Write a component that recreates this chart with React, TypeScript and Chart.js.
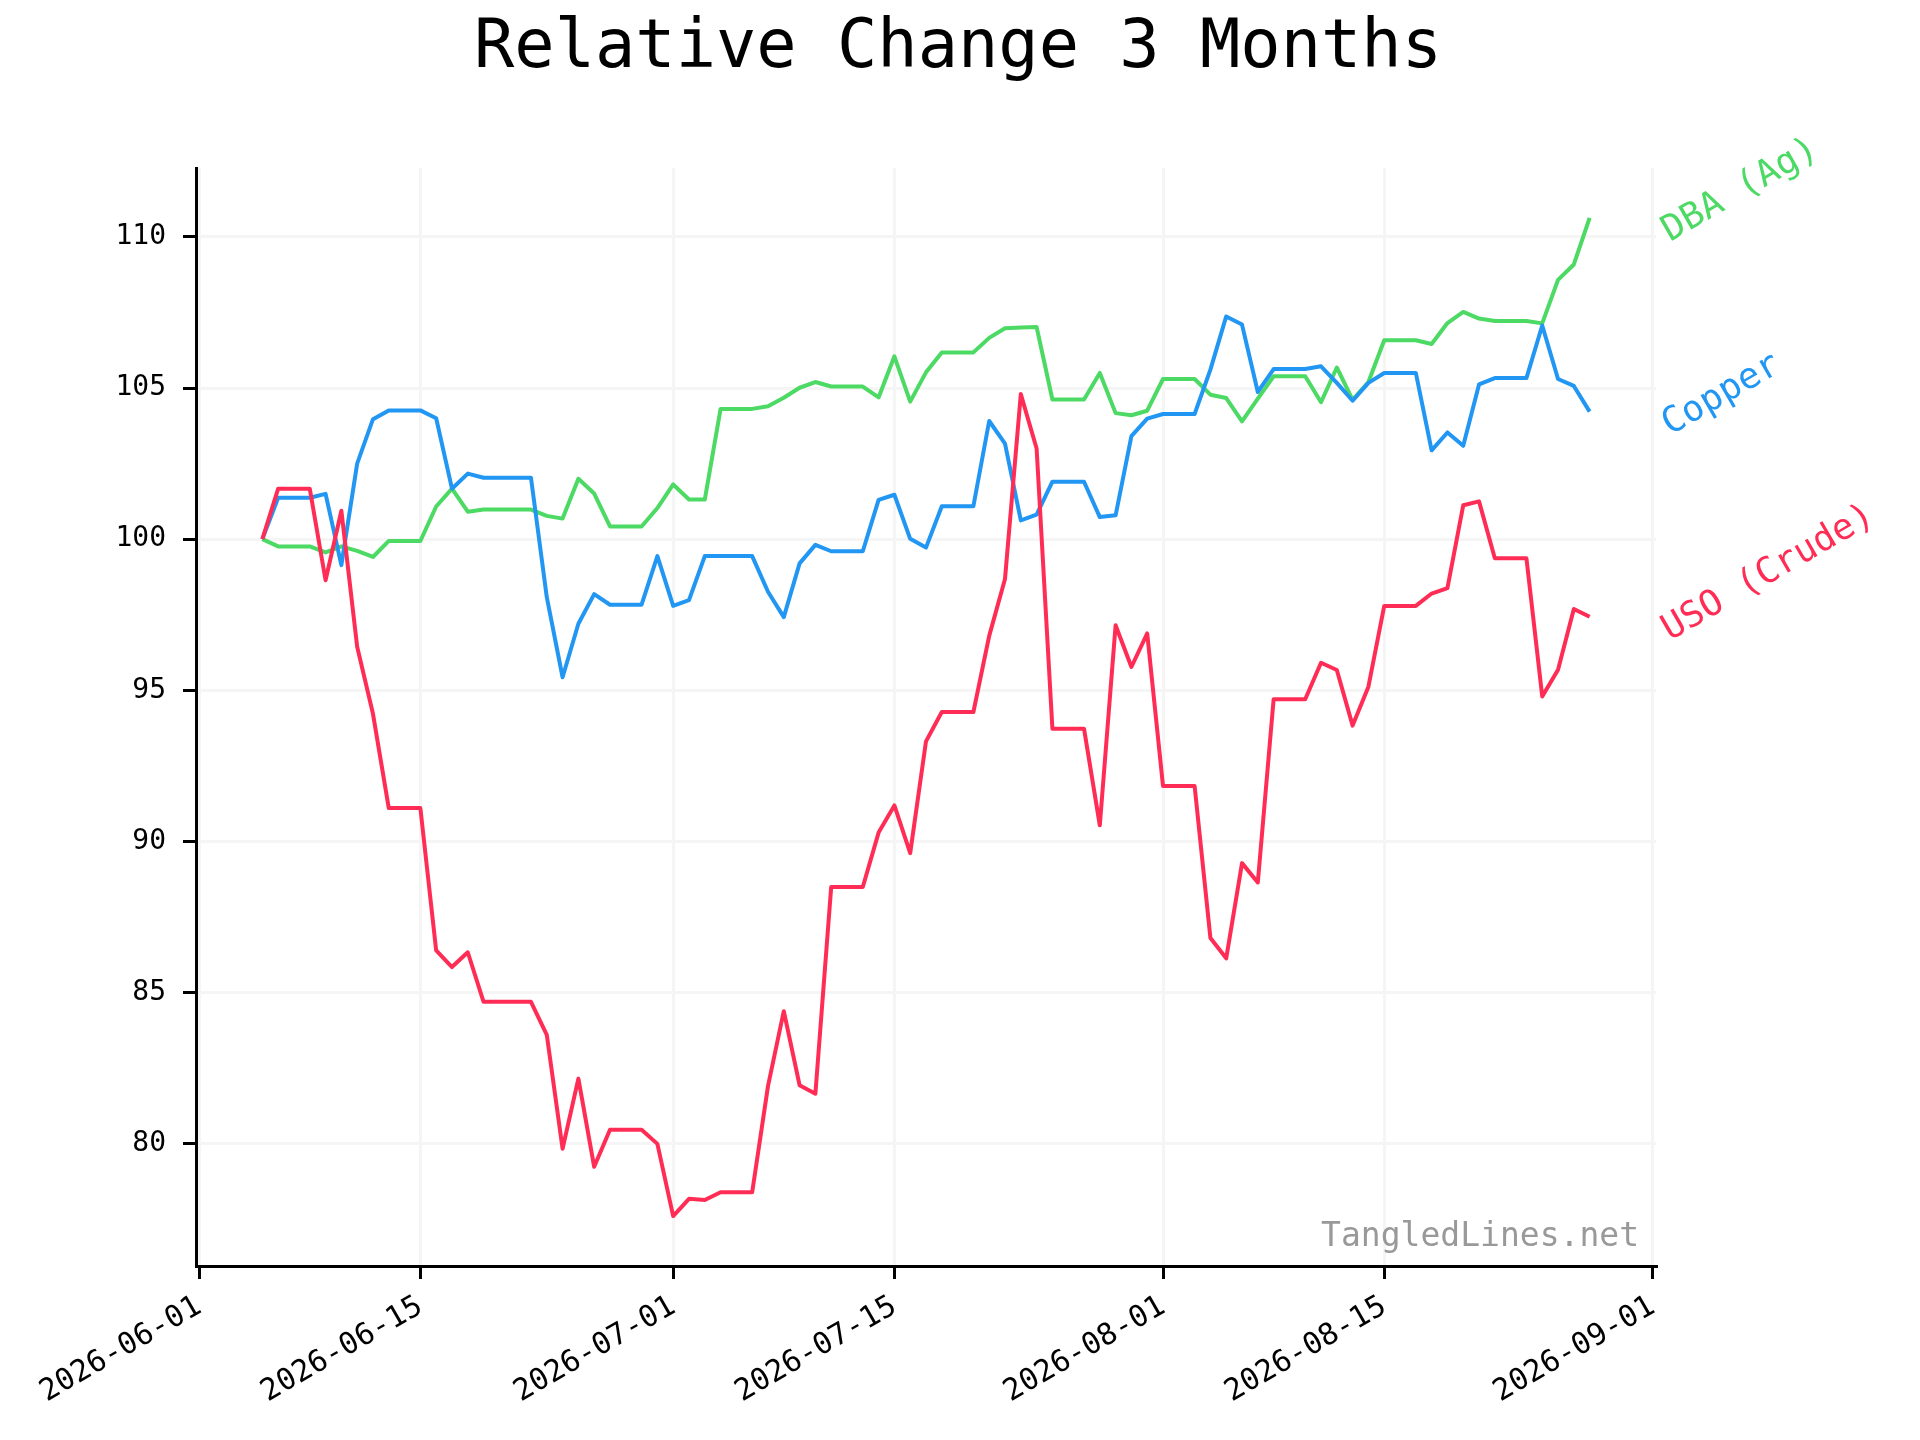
import React, { useEffect, useRef } from "react";
import { Chart, registerables } from "chart.js";

Chart.register(...registerables);

const dates = [
  "2026-06-05", "2026-06-06", "2026-06-07", "2026-06-08", "2026-06-09", "2026-06-10", "2026-06-11",
  "2026-06-12", "2026-06-13", "2026-06-14", "2026-06-15", "2026-06-16", "2026-06-17", "2026-06-18",
  "2026-06-19", "2026-06-20", "2026-06-21", "2026-06-22", "2026-06-23", "2026-06-24", "2026-06-25",
  "2026-06-26", "2026-06-27", "2026-06-28", "2026-06-29", "2026-06-30",
  "2026-07-01", "2026-07-02", "2026-07-03", "2026-07-04", "2026-07-05", "2026-07-06", "2026-07-07",
  "2026-07-08", "2026-07-09", "2026-07-10", "2026-07-11", "2026-07-12", "2026-07-13", "2026-07-14",
  "2026-07-15", "2026-07-16", "2026-07-17", "2026-07-18", "2026-07-19", "2026-07-20", "2026-07-21",
  "2026-07-22", "2026-07-23", "2026-07-24", "2026-07-25", "2026-07-26", "2026-07-27", "2026-07-28",
  "2026-07-29", "2026-07-30", "2026-07-31",
  "2026-08-01", "2026-08-02", "2026-08-03", "2026-08-04", "2026-08-05", "2026-08-06", "2026-08-07",
  "2026-08-08", "2026-08-09", "2026-08-10", "2026-08-11", "2026-08-12", "2026-08-13", "2026-08-14",
  "2026-08-15", "2026-08-16", "2026-08-17", "2026-08-18", "2026-08-19", "2026-08-20", "2026-08-21",
  "2026-08-22", "2026-08-23", "2026-08-24", "2026-08-25", "2026-08-26", "2026-08-27", "2026-08-28",
];

const usoValues = [
  100, 101.67, 101.67, 101.67, 98.64, 100.94, 96.44, 94.22, 91.1, 91.1, 91.1, 86.39, 85.84, 86.33,
  84.69, 84.69, 84.69, 84.69, 83.6, 79.83, 82.15, 79.23, 80.46, 80.46, 80.46, 79.99,
  77.6, 78.17, 78.13, 78.39, 78.39, 78.39, 81.9, 84.38, 81.93, 81.65, 88.49, 88.49, 88.49, 90.29,
  91.19, 89.61, 93.31, 94.28, 94.28, 94.28, 96.8, 98.68, 104.8, 103.0, 93.73, 93.73, 93.73, 90.53,
  97.15, 95.77, 96.88,
  91.83, 91.83, 91.83, 86.8, 86.13, 89.28, 88.64, 94.7, 94.7, 94.7, 95.91, 95.67, 93.83, 95.12,
  97.79, 97.79, 97.79, 98.2, 98.38, 101.12, 101.25, 99.37, 99.37, 99.37, 94.79, 95.68, 97.69, 97.43,
];

const copperValues = [
  100, 101.37, 101.37, 101.37, 101.5, 99.14, 102.5, 103.97, 104.26, 104.26, 104.26, 104.0, 101.67, 102.17,
  102.03, 102.03, 102.03, 102.03, 98.08, 95.43, 97.2, 98.18, 97.83, 97.83, 97.83, 99.44,
  97.79, 97.98, 99.44, 99.44, 99.44, 99.44, 98.26, 97.42, 99.2, 99.81, 99.6, 99.6, 99.6, 101.3,
  101.47, 100.01, 99.72, 101.09, 101.09, 101.09, 103.91, 103.16, 100.62, 100.81, 101.9, 101.9, 101.9, 100.73,
  100.79, 103.41, 103.99,
  104.14, 104.14, 104.14, 105.61, 107.37, 107.1, 104.87, 105.63, 105.63, 105.63, 105.72, 105.17, 104.58, 105.17,
  105.5, 105.5, 105.5, 102.94, 103.53, 103.09, 105.12, 105.33, 105.33, 105.33, 107.07, 105.3, 105.07, 104.22,
];

const dbaValues = [
  100, 99.76, 99.76, 99.76, 99.56, 99.76, 99.61, 99.41, 99.94, 99.94, 99.94, 101.08, 101.67, 100.91,
  100.98, 100.98, 100.98, 100.98, 100.77, 100.68, 102.0, 101.51, 100.42, 100.42, 100.42, 101.03,
  101.81, 101.31, 101.31, 104.31, 104.31, 104.31, 104.4, 104.68, 105.01, 105.2, 105.05, 105.05, 105.05, 104.69,
  106.05, 104.55, 105.52, 106.18, 106.18, 106.18, 106.66, 106.98, 107.0, 107.02, 104.62, 104.62, 104.62, 105.5,
  104.17, 104.1, 104.25,
  105.3, 105.3, 105.3, 104.78, 104.67, 103.9, 104.65, 105.39, 105.39, 105.39, 104.53, 105.68, 104.61, 105.2,
  106.58, 106.58, 106.58, 106.46, 107.15, 107.52, 107.3, 107.22, 107.22, 107.22, 107.14, 108.58, 109.09, 110.63,
];

const seriesNames = ["USO (Crude)", "Copper", "DBA (Ag)"];
const seriesColors = ["#ff2d55", "#2196f3", "#4cd964"];
const xTickLabels = ["2026-06-01", "2026-06-15", "2026-07-01", "2026-07-15", "2026-08-01", "2026-08-15", "2026-09-01"];
const yTickValues = [80, 85, 90, 95, 100, 105, 110];

const MONO = '"DejaVu Sans Mono", monospace';
const DAY_MS = 86400000;
const ORIGIN = Date.parse("2026-06-01T00:00:00Z");
const toDay = (s: string) => (Date.parse(s + "T00:00:00Z") - ORIGIN) / DAY_MS;

const labelPlugin = {
  id: "labels",
  afterDraw(chart: any) {
    const { ctx, chartArea, scales } = chart;
    ctx.save();
    ctx.fillStyle = "#000";
    ctx.font = `67px ${MONO}`;
    ctx.textAlign = "center";
    ctx.textBaseline = "alphabetic";
    ctx.fillText("Relative Change 3 Months", 958, 67);

    ctx.fillStyle = "#999999";
    ctx.font = `33px ${MONO}`;
    ctx.textAlign = "right";
    ctx.fillText("TangledLines.net", chartArea.right - 17, chartArea.bottom - 20);

    // series names at the end of each line
    chart.data.datasets.forEach((ds: any) => {
      const last = ds.data[ds.data.length - 1];
      const y = scales.y.getPixelForValue(last.y);
      ctx.save();
      ctx.translate(chartArea.right + 14, y + 24);
      ctx.rotate(-Math.PI / 6);
      ctx.fillStyle = ds.borderColor;
      ctx.font = `36px ${MONO}`;
      ctx.textAlign = "left";
      ctx.fillText(ds.label, 0, 0);
      ctx.restore();
    });
    ctx.restore();
  },
};

const App: React.FC = () => {
  const canvasRef = useRef<HTMLCanvasElement>(null);

  useEffect(() => {
    document.body.style.margin = "0";
    if (!canvasRef.current) return;
    const ctx = canvasRef.current.getContext("2d");
    if (!ctx) return;

    const days = dates.map(toDay);
    const xSpan = days[days.length - 1] - days[0];
    const all = [...usoValues, ...copperValues, ...dbaValues];
    const yMin = Math.min(...all);
    const yMax = Math.max(...all);
    const ySpan = yMax - yMin;
    const tickDays = xTickLabels.map(toDay);

    const series = [usoValues, copperValues, dbaValues];

    const chart = new Chart(ctx, {
      type: "line",
      data: {
        datasets: series.map((vals, i) => ({
          label: seriesNames[i],
          data: vals.map((v, j) => ({ x: days[j], y: v })),
          borderColor: seriesColors[i],
          backgroundColor: seriesColors[i],
          borderWidth: 4,
          pointRadius: 0,
          tension: 0,
          fill: false,
          borderJoinStyle: "round" as const,
        })),
      },
      options: {
        animation: false,
        responsive: false,
        devicePixelRatio: 1,
        layout: { padding: { left: 0, top: 168, right: 264, bottom: 0 } },
        plugins: {
          legend: { display: false },
          title: { display: false },
          tooltip: { enabled: false },
        },
        scales: {
          x: {
            type: "linear",
            min: days[0] - 0.05 * xSpan,
            max: days[days.length - 1] + 0.05 * xSpan,
            afterBuildTicks: (s: any) => {
              s.ticks = tickDays.map((v) => ({ value: v }));
            },
            afterFit: (s: any) => {
              s.height = 174;
            },
            grid: {
              color: "#f5f5f5",
              lineWidth: 3,
              tickColor: "#000",
              tickWidth: 3,
              tickLength: 13,
            },
            border: { display: true, color: "#000", width: 3 },
            ticks: {
              autoSkip: false,
              minRotation: 30,
              maxRotation: 30,
              padding: 10,
              color: "#000",
              font: { family: MONO, size: 30 },
              callback: (value: any) => xTickLabels[tickDays.indexOf(Number(value))] ?? "",
            },
          },
          y: {
            type: "linear",
            min: yMin - 0.05 * ySpan,
            max: yMax + 0.05 * ySpan,
            afterBuildTicks: (s: any) => {
              s.ticks = yTickValues.map((v) => ({ value: v }));
            },
            afterFit: (s: any) => {
              s.width = 196;
            },
            grid: {
              color: "#f5f5f5",
              lineWidth: 3,
              tickColor: "#000",
              tickWidth: 3,
              tickLength: 13,
            },
            border: { display: true, color: "#000", width: 3 },
            ticks: {
              padding: 17,
              color: "#000",
              font: { family: MONO, size: 28 },
              callback: (value: any) => String(value),
            },
          },
        },
      },
      plugins: [labelPlugin],
    });

    return () => {
      chart.destroy();
    };
  }, []);

  return (
    <div style={{ width: 1920, height: 1440, background: "#fff" }}>
      <canvas ref={canvasRef} width={1920} height={1440}></canvas>
    </div>
  );
};

export default App;
